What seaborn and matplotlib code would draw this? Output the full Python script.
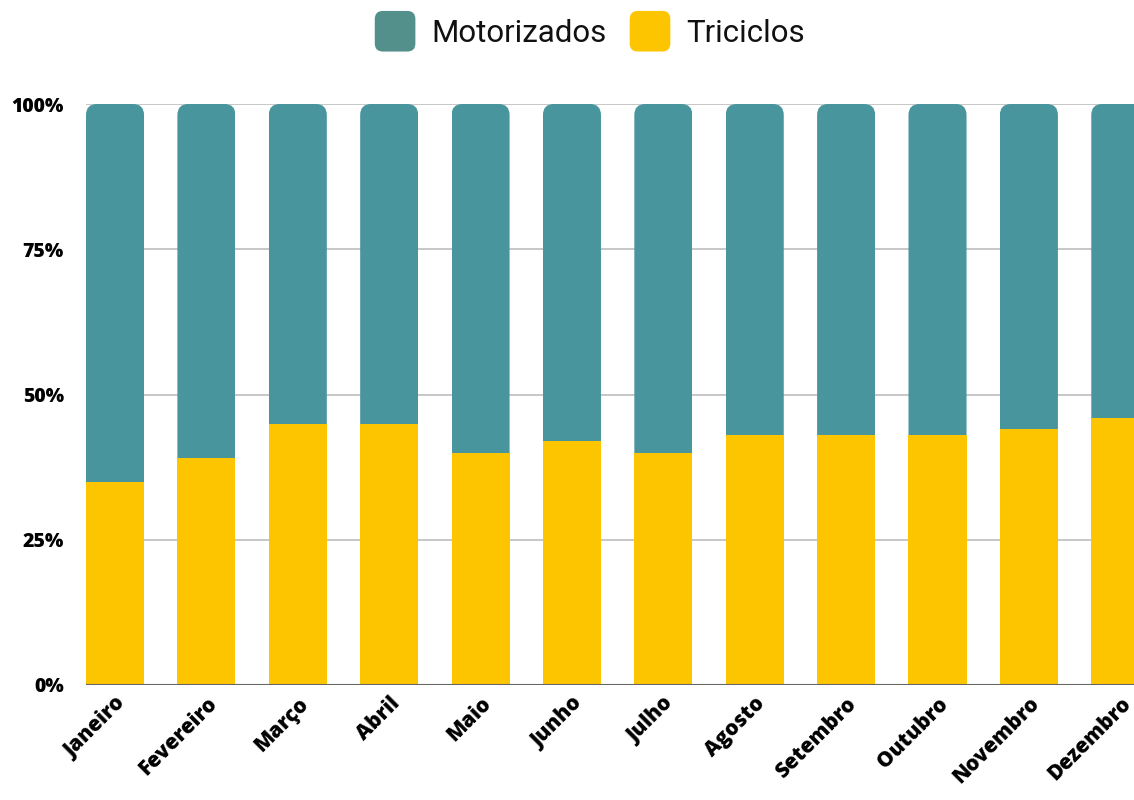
import matplotlib
matplotlib.use("Agg")
import matplotlib.pyplot as plt
import seaborn as sns
import pandas as pd
from matplotlib.patches import FancyBboxPatch, Patch
from matplotlib.legend_handler import HandlerPatch

meses = ["Janeiro", "Fevereiro", "Março", "Abril", "Maio", "Junho", "Julho",
         "Agosto", "Setembro", "Outubro", "Novembro", "Dezembro"]
triciclos = [0.35, 0.39, 0.45, 0.45, 0.40, 0.42, 0.40, 0.43, 0.43, 0.43, 0.44, 0.46]
motorizados = [0.65, 0.61, 0.55, 0.55, 0.60, 0.58, 0.60, 0.57, 0.57, 0.57, 0.56, 0.54]
yticks = [0, 0.25, 0.5, 0.75, 1.0]
ytick_labels = ["0%", "25%", "50%", "75%", "100%"]

TEAL = "#48959E"
TEAL_LEG = "#538F8B"
YELLOW = "#FCC500"

df = pd.DataFrame({"mes": meses, "tri": triciclos, "moto": motorizados})
df["total"] = df["tri"] + df["moto"]

sns.set_theme(style="white")
plt.rcParams['font.family'] = ['Open Sans', 'DejaVu Sans']

fig = plt.figure(figsize=(11.34, 8), dpi=100)
ax = fig.add_axes([86 / 1134, 1 - 685 / 800, 1 - 86 / 1134, (685 - 104) / 800])

BW = 0.635
sns.barplot(data=df, x="mes", y="total", color=TEAL, width=BW, saturation=1,
            linewidth=0, ax=ax, zorder=2)
teal_bars = list(ax.patches)
sns.barplot(data=df, x="mes", y="tri", color=YELLOW, width=BW, saturation=1,
            linewidth=0, ax=ax, zorder=3)

ax.set_xlim(-BW / 2, 11.15)
ax.set_ylim(0, 1)

# rounded top corners for teal bars
px_x = 1048 / (11.15 + BW / 2)
px_y = 581.0
r = 11 / px_x
for p in teal_bars:
    x0, w, h = p.get_x(), p.get_width(), p.get_height()
    clip = FancyBboxPatch((x0, -0.2), w, h + 0.2,
                          boxstyle=f"round,pad=0,rounding_size={r}",
                          mutation_aspect=px_x / px_y,
                          transform=ax.transData, facecolor="none", edgecolor="none")
    ax.add_patch(clip)
    clip.set_visible(False)
    p.set_clip_path(clip)

ax.set_yticks(yticks)
ax.set_yticklabels(ytick_labels, fontsize=14, fontweight="heavy", color="black")
for y in yticks[1:]:
    ax.axhline(y, color="#BDBDBD", lw=1.2, zorder=1)
ax.axhline(0, color="#666666", lw=1.5, zorder=4)

ax.set_xlabel("")
ax.set_ylabel("")
ax.tick_params(axis="y", length=0, pad=16)
ax.tick_params(axis="x", length=0, pad=6)
plt.setp(ax.get_xticklabels(), rotation=45, ha="right", rotation_mode="anchor",
         fontsize=15, fontweight="heavy", color="black")
for s in ax.spines.values():
    s.set_visible(False)


class RoundHandler(HandlerPatch):
    def create_artists(self, legend, orig_handle, xdescent, ydescent, width,
                       height, fontsize, trans):
        size = width
        y0 = -ydescent + (height - size) / 2
        p = FancyBboxPatch((-xdescent, y0), size, size,
                           boxstyle=f"round,pad=0,rounding_size={size * 0.2}",
                           facecolor=orig_handle.get_facecolor(), edgecolor="none",
                           transform=trans)
        return [p]


handles = [Patch(facecolor=TEAL_LEG, edgecolor="none", label="Motorizados"),
           Patch(facecolor=YELLOW, edgecolor="none", label="Triciclos")]
leg = fig.legend(handles=handles, loc="center", bbox_to_anchor=(0.52, 0.958),
                 ncol=2, frameon=False, handlelength=1.3,
                 handleheight=0.8, handletextpad=0.5, columnspacing=0.75,
                 handler_map={Patch: RoundHandler()},
                 prop={"family": ["Roboto", "DejaVu Sans"], "size": 22.5})
for t in leg.get_texts():
    t.set_color("#111111")

fig.savefig("out.png", dpi=100)
